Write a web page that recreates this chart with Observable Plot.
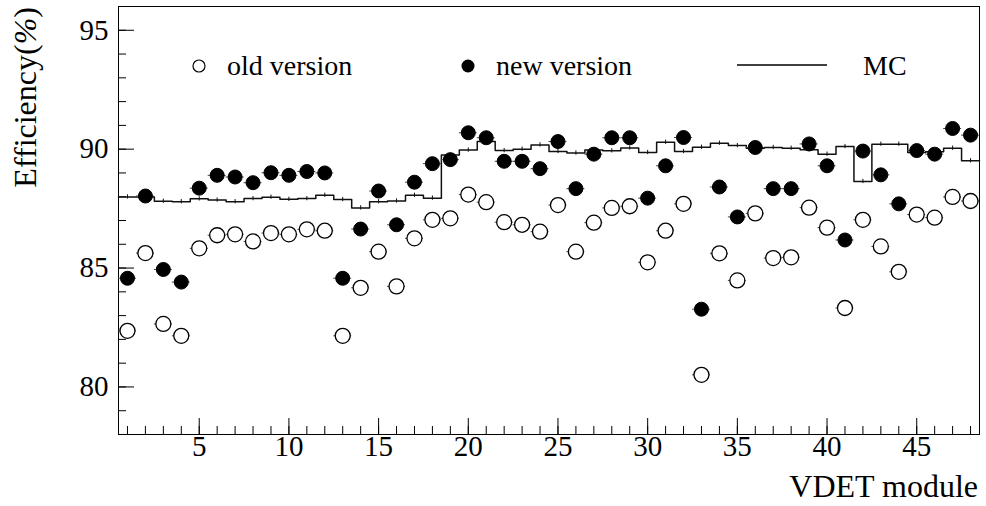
<!DOCTYPE html>
<html><head><meta charset="utf-8">
<script src="https://cdn.jsdelivr.net/npm/d3@7"></script>
<script src="https://cdn.jsdelivr.net/npm/@observablehq/plot@0.6"></script>
<style>
body{margin:0;background:#fff}
svg{display:block}
#chart svg, #chart svg text, #chart svg tspan {font-family:'Liberation Serif', 'Times New Roman', serif !important;}
</style>
</head><body><div id="chart"></div>
<script>
const modules = d3.range(1, 49);
const oldVersion = [82.36, 85.63, 82.65, 82.15, 85.83, 86.38, 86.42, 86.12, 86.47, 86.42, 86.63, 86.57,
  82.15, 84.17, 85.69, 84.23, 86.25, 87.03, 87.09, 88.09, 87.77, 86.93, 86.82, 86.53,
  87.65, 85.69, 86.91, 87.53, 87.60, 85.24, 86.57, 87.70, 80.51, 85.62, 84.48, 87.30,
  85.42, 85.45, 87.54, 86.70, 83.32, 87.03, 85.91, 84.84, 87.25, 87.12, 87.99, 87.82];
const newVersion = [84.57, 88.03, 84.94, 84.41, 88.36, 88.90, 88.83, 88.59, 89.01, 88.90, 89.06, 89.00,
  84.57, 86.64, 88.24, 86.82, 88.61, 89.39, 89.56, 90.69, 90.48, 89.49, 89.49, 89.18,
  90.32, 88.34, 89.79, 90.48, 90.48, 87.94, 89.30, 90.49, 83.27, 88.41, 87.15, 90.07,
  88.34, 88.34, 90.22, 89.30, 86.18, 89.92, 88.92, 87.70, 89.94, 89.79, 90.87, 90.59];
const mcValues = [87.99, 87.99, 87.81, 87.79, 87.91, 87.86, 87.79, 87.92, 87.98, 87.89, 87.92, 88.06,
  87.88, 87.53, 87.79, 87.82, 88.06, 87.94, 89.75, 89.96, 90.32, 89.94, 90.00, 90.18,
  89.90, 89.84, 89.96, 89.93, 90.05, 89.86, 90.29, 89.90, 90.08, 90.25, 90.15, 90.04,
  90.07, 90.04, 89.98, 89.79, 90.11, 88.64, 90.21, 90.21, 89.86, 89.89, 90.04, 89.51];
const yTickLabels = [80, 85, 90, 95];
const yMinorTicks = d3.range(78, 97);
const xTickLabels = [5, 10, 15, 20, 25, 30, 35, 40, 45];
const xMinorTicks = d3.range(1, 49);
const legendLabels = ["old version", "new version", "MC"];
const xTitle = "VDET module";
const yTitle = "Efficiency(";

const oldData = modules.map((m, i) => ({m, v: oldVersion[i]}));
const newData = modules.map((m, i) => ({m, v: newVersion[i]}));
const mcData = modules.map((m, i) => ({m, v: mcValues[i]}));
const mcSteps = mcData.flatMap(d => [{x: d.m - 0.5, y: d.v}, {x: d.m + 0.5, y: d.v}]);

const W = 986, H = 506, mL = 118, mR = 7, mT = 6, mB = 72;
const pw = W - mL - mR, ph = H - mT - mB;
const font = "'Liberation Serif', 'Times New Roman', serif";

const plot = Plot.plot({
  width: W, height: H,
  marginLeft: mL, marginRight: mR, marginTop: mT, marginBottom: mB,
  x: {domain: [0.5, 48.5], axis: null},
  y: {domain: [78, 96], axis: null},
  style: {fontFamily: font, background: "white", color: "black"},
  marks: [
    Plot.frame({stroke: "#000", strokeWidth: 1}),
    Plot.tickY(yMinorTicks, {y: d => d, stroke: "#000", insetRight: pw - 8}),
    Plot.tickY(yTickLabels, {y: d => d, stroke: "#000", insetRight: pw - 16}),
    Plot.tickX(xMinorTicks, {x: d => d, stroke: "#000", insetTop: ph - 8}),
    Plot.tickX(xTickLabels, {x: d => d, stroke: "#000", insetTop: ph - 16}),
    Plot.text(yTickLabels, {y: d => d, text: d => String(d), frameAnchor: "left", dx: -10, textAnchor: "end", fontSize: 29, fill: "#000"}),
    Plot.text(xTickLabels, {x: d => d, text: d => String(d), frameAnchor: "bottom", dy: 21, fontSize: 29, fill: "#000"}),
    Plot.line(mcSteps, {x: "x", y: "y", stroke: "#111", strokeWidth: 1.5}),
    Plot.ruleX(mcData, {x: "m", y1: d => d.v - 0.09, y2: d => d.v + 0.09, stroke: "#111", strokeWidth: 1}),
    Plot.ruleY(oldData, {x1: d => d.m - 0.5, x2: d => d.m + 0.5, y: "v", stroke: "#444", strokeWidth: 1}),
    Plot.ruleY(newData, {x1: d => d.m - 0.5, x2: d => d.m + 0.5, y: "v", stroke: "#444", strokeWidth: 1}),
    Plot.dot(oldData, {x: "m", y: "v", r: 7.5, stroke: "#000", fill: "white", strokeWidth: 1.3}),
    Plot.dot(newData, {x: "m", y: "v", r: 7, fill: "#000", stroke: "#000", strokeWidth: 1})
  ]
});

const svg = d3.select(plot);
// axis titles
const yt = svg.append("text")
  .attr("transform", "translate(36,7) rotate(-90)")
  .attr("text-anchor", "end")
  .attr("font-size", 32).attr("fill", "#000");
yt.append("tspan").text(yTitle);
yt.append("tspan").attr("font-style", "italic").text("%");
yt.append("tspan").text(")");
svg.append("text").attr("x", 978).attr("y", 497).attr("text-anchor", "end")
  .attr("font-size", 32).attr("fill", "#000").text(xTitle);

// legend
const lg = svg.append("g").attr("font-size", 28).attr("fill", "#000").attr("text-anchor", "start");
lg.append("circle").attr("cx", 199).attr("cy", 66).attr("r", 6).attr("fill", "white").attr("stroke", "#000").attr("stroke-width", 1.2);
lg.append("text").attr("x", 227).attr("y", 75).text(legendLabels[0]);
lg.append("circle").attr("cx", 468).attr("cy", 66).attr("r", 6.5).attr("fill", "#000");
lg.append("text").attr("x", 496).attr("y", 75).text(legendLabels[1]);
lg.append("line").attr("x1", 737).attr("x2", 827).attr("y1", 65).attr("y2", 65).attr("stroke", "#000").attr("stroke-width", 1.3);
lg.append("text").attr("x", 863).attr("y", 75).text(legendLabels[2]);

document.getElementById("chart").appendChild(plot);
</script>
</body></html>
